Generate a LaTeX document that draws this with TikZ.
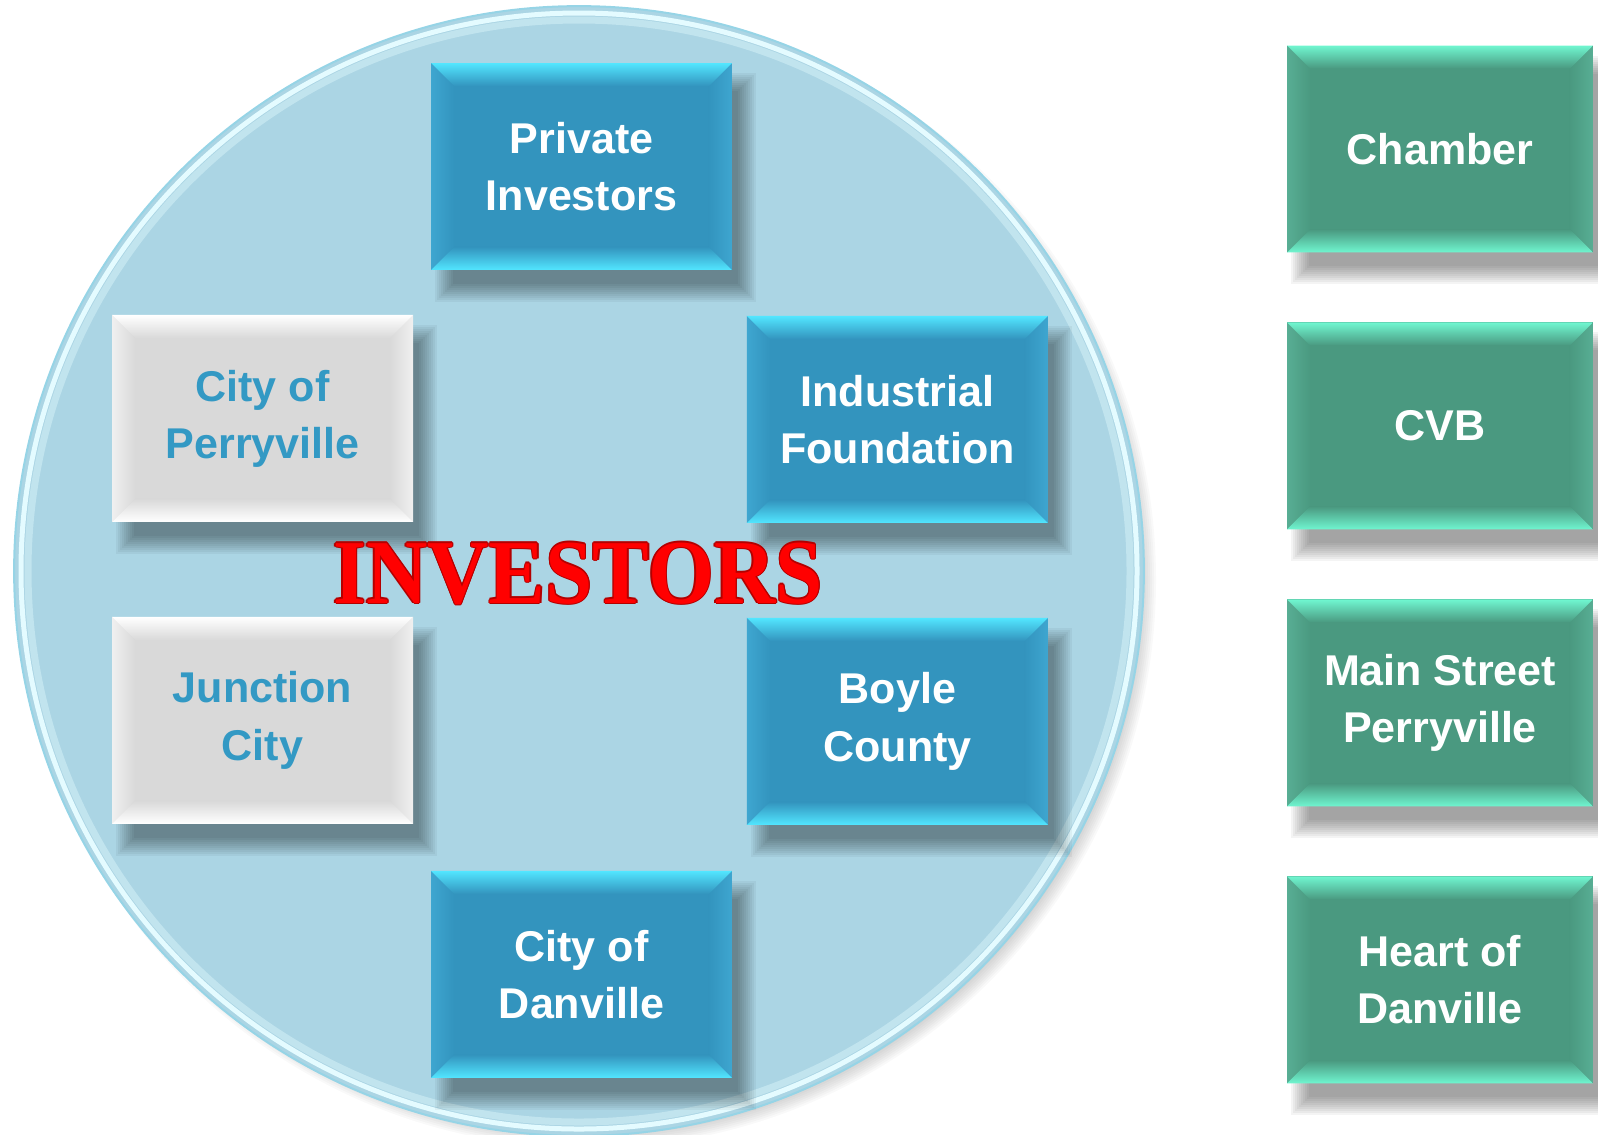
\documentclass[tikz,border=0pt]{standalone}
\usepackage{fontspec}
\usepackage{graphicx}
\setmainfont{Liberation Sans}
\newfontfamily\headfont{Liberation Serif}
\usetikzlibrary{positioning, backgrounds, calc}

\definecolor{disc}{RGB}{171,213,228}
\definecolor{discline}{RGB}{150,212,230}
\definecolor{discrim}{RGB}{228,251,255}
\definecolor{blueface}{RGB}{51,148,190}
\definecolor{blueside}{RGB}{62,166,208}
\definecolor{blueedge}{RGB}{82,230,255}
\definecolor{grayface}{RGB}{217,217,217}
\definecolor{grayside}{RGB}{240,240,240}
\definecolor{greenface}{RGB}{74,153,128}
\definecolor{greenside}{RGB}{88,174,148}
\definecolor{greenedge}{RGB}{112,246,208}
\definecolor{cityblue}{RGB}{51,153,196}
\definecolor{headred}{RGB}{255,0,0}
\definecolor{headdark}{RGB}{180,0,0}

\pgfdeclarelayer{disc}
\pgfsetlayers{disc,background,main}

\tikzset{%
	bevel/.style n args={3}{rectangle, outer sep=0pt, inner sep=0pt,%
		minimum width=6.02cm, minimum height=4.14cm, fill=#1, align=center,%
		font=\fontsize{24.5}{32.5}\selectfont\bfseries,
		path picture={
			\coordinate (bnw) at (path picture bounding box.north west);
			\coordinate (bne) at (path picture bounding box.north east);
			\coordinate (bsw) at (path picture bounding box.south west);
			\coordinate (bse) at (path picture bounding box.south east);
			\shade[left color=#2, right color=#1] (bnw) -- ($(bnw)+(0.46cm,-0.46cm)$) -- ($(bsw)+(0.46cm,0.46cm)$) -- (bsw) -- cycle;
			\shade[left color=#1, right color=#2] (bne) -- ($(bne)+(-0.46cm,-0.46cm)$) -- ($(bse)+(-0.46cm,0.46cm)$) -- (bse) -- cycle;
			\shade[top color=#3, bottom color=#1] (bnw) -- (bne) -- ($(bne)+(-0.46cm,-0.46cm)$) -- ($(bnw)+(0.46cm,-0.46cm)$) -- cycle;
			\shade[top color=#1, bottom color=#3] (bsw) -- (bse) -- ($(bse)+(-0.46cm,0.46cm)$) -- ($(bsw)+(0.46cm,0.46cm)$) -- cycle;
		}},
	investor/.style={bevel={blueface}{blueside}{blueedge}, text=white},
	council/.style={bevel={grayface}{grayside}{white}, text=cityblue},
	partner/.style={bevel={greenface}{greenside}{greenedge}, text=white, minimum width=6.12cm},
	ring/.style={circle, fill=disc, draw=discline, line width=0.04cm, minimum size=22.6cm, inner sep=0pt},
	headline/.style={anchor=base, inner sep=0pt, font=\headfont\fontsize{52}{52}\selectfont\bfseries}
}

\begin{document}
\begin{tikzpicture}[x=0.02cm, y=0.02cm]
	\useasboundingbox (0,0) rectangle (1598,-1134);

	% the disc and its soft shadow
	\begin{pgfonlayer}{disc}
		\foreach \k in {0,...,7}
			\fill[black, opacity=0.025] (588,-580) circle ({568-2*\k});
		\node[ring] (ring) at (579,-571) {};
		\draw[discrim, line width=0.1cm] (ring.center) circle (558);
		\draw[discrim, opacity=0.4, line width=0.14cm] (ring.center) circle (551);
	\end{pgfonlayer}

	% investors inside the disc
	\node[investor] (priv) at (581.5,-166.5) {Private\\Investors};
	\node[council, below left=0.9cm and 0.36cm of priv] (perry) {City of\\Perryville};
	\node[investor, below right=0.92cm and 0.3cm of priv] (indus) {Industrial\\Foundation};
	\node[council, below=1.9cm of perry] (junc) {Junction\\City};
	\node[investor, below=1.9cm of indus] (boyle) {Boyle\\County};
	\node[investor, below left=0.92cm and 0.3cm of boyle] (danv) {City of\\Danville};

	% partners
	\node[partner] (chamber) at (1440,-149) {Chamber};
	\node[partner, below=1.4cm of chamber] (cvb) {CVB};
	\node[partner, below=1.4cm of cvb] (mainst) {Main Street\\Perryville};
	\node[partner, below=1.4cm of mainst] (heart) {Heart of\\Danville};

	% drop shadows
	\begin{pgfonlayer}{background}
		\foreach \n in {priv,perry,indus,junc,boyle,danv,chamber,cvb,mainst,heart}
			\foreach \k in {0,...,9}
				\fill[black, opacity=0.045]
					($(\n.south west)+({4+2*\k},{-32+2*\k})$) rectangle
					($(\n.north east)+({24-2*\k},{-10-2*\k})$);
	\end{pgfonlayer}

	% title with a dark rim
	\foreach \a in {0,45,...,315}
		\node[headline, text=headdark] (head-\a) at ($(578,-603)+(\a:1.3)$) {\scalebox{0.93}[1]{INVESTORS}};
	\node[headline, text=headred] (head) at (578,-603) {\scalebox{0.93}[1]{INVESTORS}};
\end{tikzpicture}
\end{document}
